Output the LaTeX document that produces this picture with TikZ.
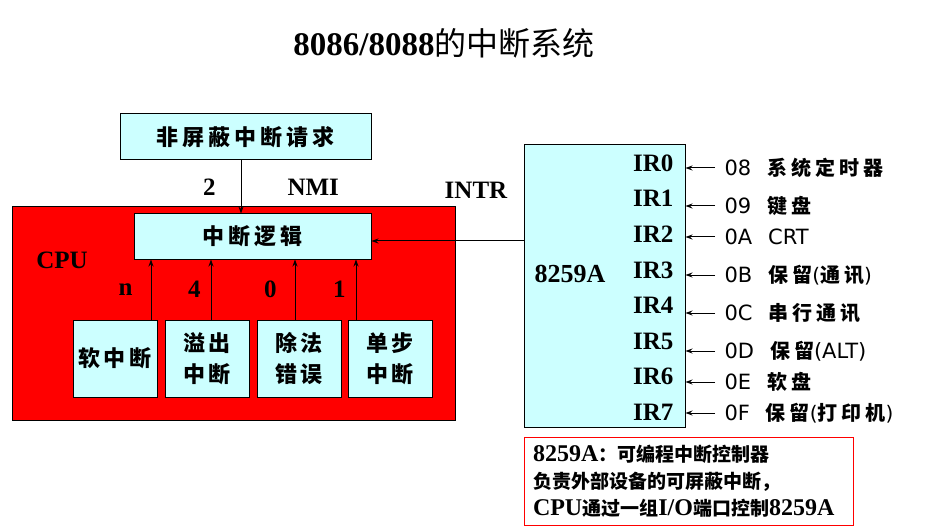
\documentclass[tikz,border=0pt]{standalone}
\usepackage{fontspec}
\setmainfont{Liberation Serif}
\newfontfamily\cjk{Noto Sans CJK SC}
\newfontfamily\sanslab{DejaVu Sans}
\usetikzlibrary{arrows.meta,calc}
\definecolor{cyanbg}{RGB}{204,255,255}

\begin{document}
\begin{tikzpicture}[x=1pt,y=-1pt,line width=1pt,
  box/.style={draw,fill=cyanbg,inner sep=0pt,align=center,
    font=\fontsize{22}{31}\selectfont\cjk\bfseries},
  lbl/.style={inner sep=0pt,font=\fontsize{25}{25}\selectfont\bfseries},
  src/.style={anchor=west,inner xsep=9pt,inner ysep=0pt,
    font=\fontsize{20}{20}\selectfont\cjk\bfseries},
  arr/.style={-{Stealth[length=7pt,width=5pt]}}]
  \def\spc#1#2{#1\ifx#2\relax\else\hspace{4pt}\expandafter\spc\expandafter#2\fi}
  \def\code#1{{\fontsize{21}{21}\selectfont\sanslab\mdseries #1}\hspace{16pt}}
  \def\lt#1{{\fontsize{24}{27}\selectfont\bfseries #1}}
  \def\ck#1{{\cjk\bfseries #1}}
  \useasboundingbox (0,0) rectangle (930,532);
  % title
  \node (title) at (444,43) {{\fontsize{33}{33}\selectfont\bfseries 8086/8088}{\fontsize{32}{32}\selectfont\cjk 的中断系统}};
  % CPU
  \node[draw,fill=red,minimum width=443pt,minimum height=213pt] (cpu) at (233.5,313.5) {};
  \node[lbl] (cpulbl) at (62,260) {CPU};
  \node[box,minimum width=251pt,minimum height=46pt] (nmi) at (245.5,137) {\spc 非屏蔽中断请求\relax};
  \node[box,minimum width=237pt,minimum height=45pt] (logic) at (252.5,236.5) {\spc 中断逻辑\relax};
  \node[box,minimum width=84pt,minimum height=77pt] (soft) at (115,358.5) {\spc 软中断\relax};
  \node[box,minimum width=84pt,minimum height=77pt] (ovf) at (207,358.5) {\spc 溢出\relax\\\spc 中断\relax};
  \node[box,minimum width=84pt,minimum height=77pt] (div) at (299,358.5) {\spc 除法\relax\\\spc 错误\relax};
  \node[box,minimum width=84pt,minimum height=77pt] (single) at (390,358.5) {\spc 单步\relax\\\spc 中断\relax};
  \coordinate (nb) at ($(nmi.south)+(-4.5,0)$);
  \draw[arr] (nb) -- (nb |- logic.north) node[lbl,midway,left=25pt]{2} node[lbl,midway,right=46pt]{NMI};
  \coordinate (sn) at ($(soft.north)+(36,0)$);
  \coordinate (on) at ($(ovf.north)+(4,0)$);
  \coordinate (dn) at ($(div.north)+(-4,0)$);
  \coordinate (tn) at ($(single.north)+(-34,0)$);
  \draw[arr] (sn) -- (sn |- logic.south) node[lbl,midway,left=18pt]{n};
  \draw[arr] (on) -- (on |- logic.south) node[lbl,midway,left=10pt]{4};
  \draw[arr] (dn) -- (dn |- logic.south) node[lbl,midway,left=18pt]{0};
  \draw[arr] (tn) -- (tn |- logic.south) node[lbl,midway,left=10pt]{1};
  % 8259A
  \node[draw,fill=cyanbg,minimum width=161pt,minimum height=282pt] (chip) at (604.5,286) {};
  \node[lbl,font=\fontsize{26}{26}\selectfont\bfseries] (chipname) at (570,274) {8259A};
  \node[lbl] (intr) at (476,190) {INTR};
  \draw[arr] (chip.west |- 0,241) -- (logic.east |- 0,241);
  \foreach \i/\y in {0/163,1/198,2/234,3/270,4/305,5/341,6/376,7/412}
    \node[lbl,anchor=east] (ir\i) at (674,\y) {IR\i};
  \node[src] (src0) at (715,168) {\code{08}\spc 系统定时器\relax};
  \node[src] (src1) at (715,206) {\code{09}\spc 键盘\relax};
  \node[src] (src2) at (715,237) {\code{0A}{\fontsize{21}{21}\selectfont\sanslab\mdseries CRT}};
  \node[src] (src3) at (715,275) {\code{0B}\spc 保留\relax{\sanslab\mdseries(}\spc 通讯\relax{\sanslab\mdseries)}};
  \node[src] (src4) at (715,313) {\code{0C}\spc 串行通讯\relax};
  \node[src] (src5) at (715,351) {\code{0D}\spc 保留\relax{\fontsize{21}{21}\selectfont\sanslab\mdseries(ALT)}};
  \node[src] (src6) at (715,382) {\code{0E}\spc 软盘\relax};
  \node[src] (src7) at (715,413) {\code{0F}\spc 保留\relax{\sanslab\mdseries(}\spc 打印机\relax{\sanslab\mdseries)}};
  \foreach \i in {0,...,7}
    \draw[arr] (src\i.west) -- (chip.east |- src\i.west);
  % note
  \node[draw=red,fill=white,minimum width=329pt,minimum height=88pt,text width=311pt,align=left,
    font=\fontsize{19}{27}\selectfont] (note) at (688.5,481)
    {\lt{8259A}\ck{：可编程中断控制器}\\
     \ck{负责外部设备的可屏蔽中断，}\\
     \lt{CPU}\ck{通过一组}\lt{I/O}\ck{端口控制}\lt{8259A}};
\end{tikzpicture}
\end{document}
